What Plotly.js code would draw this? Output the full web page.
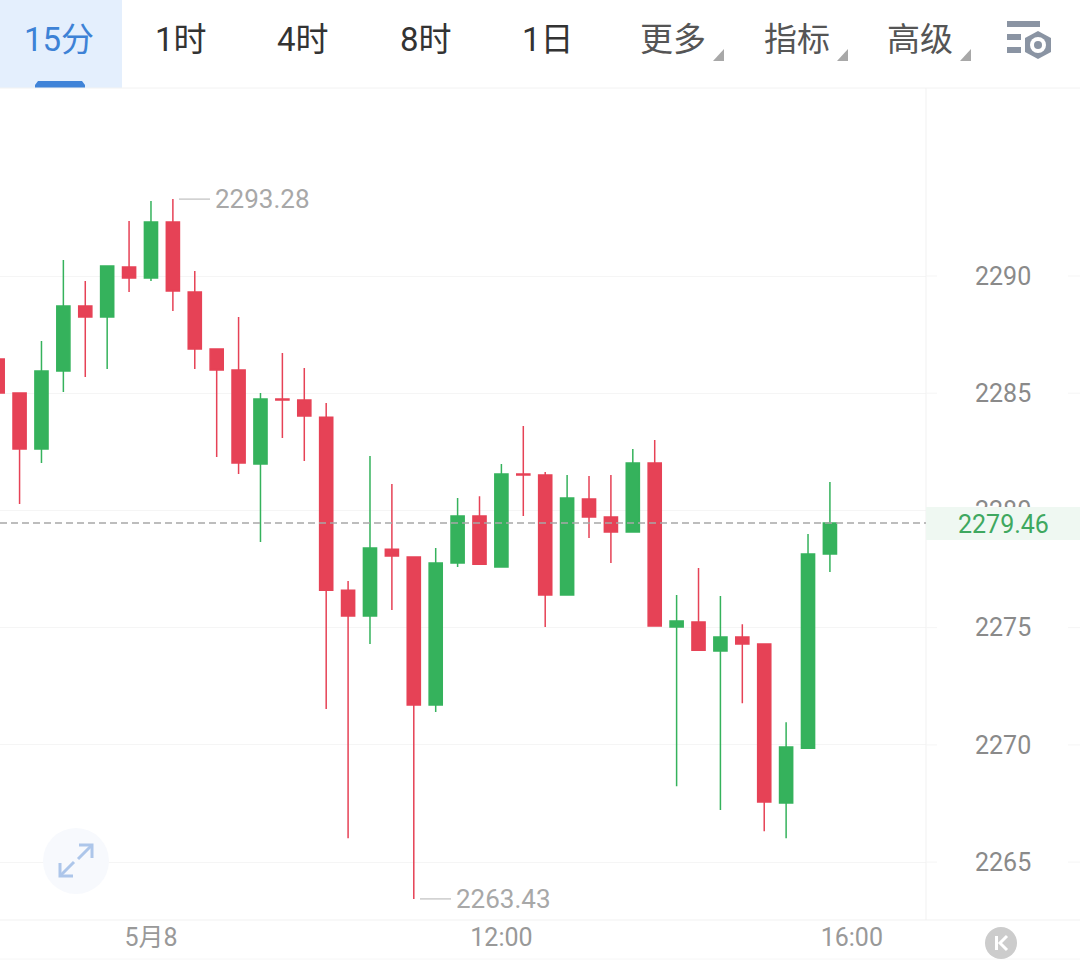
<!DOCTYPE html>
<html><head><meta charset="utf-8">
<script src="https://cdn.plot.ly/plotly-3.0.1.min.js"></script>
<style>html,body{margin:0;padding:0;background:#fff}#c{width:1080px;height:961px}</style>
</head><body><div id="c"></div>
<script>
const times = ["06:15","06:30","06:45","07:00","07:15","07:30","07:45","08:00","08:15","08:30","08:45","09:00","09:15","09:30","09:45","10:00","10:15","10:30","10:45","11:00","11:15","11:30","11:45","12:00","12:15","12:30","12:45","13:00","13:15","13:30","13:45","14:00","14:15","14:30","14:45","15:00","15:15","15:30","15:45"];
const opens = [2286.46,2285.01,2282.62,2285.95,2288.72,2288.25,2290.38,2289.91,2292.30,2289.32,2286.89,2285.99,2281.98,2284.75,2284.71,2283.98,2276.60,2275.50,2278.35,2278.01,2271.70,2277.76,2279.76,2277.59,2281.55,2281.51,2276.39,2280.49,2279.72,2279.08,2282.02,2275.03,2275.24,2274.00,2274.60,2274.30,2267.52,2269.86,2278.14];
const closes = [2285.01,2282.62,2285.95,2288.72,2288.25,2290.43,2289.91,2292.30,2289.36,2286.89,2285.99,2282.02,2284.75,2284.71,2284.03,2276.60,2275.50,2278.40,2278.06,2271.70,2277.76,2279.76,2277.71,2281.55,2281.51,2276.39,2280.53,2279.72,2279.08,2282.02,2275.07,2275.28,2274.04,2274.60,2274.30,2267.56,2269.91,2278.14,2279.46];
const highs = [2286.46,2285.01,2287.23,2290.68,2289.79,2290.43,2292.35,2293.20,2293.28,2290.21,2286.89,2288.25,2285.01,2286.72,2286.08,2284.58,2276.99,2282.32,2281.13,2278.01,2278.40,2280.53,2280.61,2281.98,2283.60,2281.64,2281.51,2281.47,2281.51,2282.62,2283.00,2276.39,2277.54,2276.35,2275.15,2274.30,2270.97,2278.99,2281.21];
const lows = [2285.01,2280.27,2282.02,2285.05,2285.69,2286.03,2289.32,2289.79,2288.51,2286.03,2282.28,2281.55,2278.65,2283.09,2282.11,2271.53,2266.02,2274.30,2275.75,2263.43,2271.40,2277.59,2277.71,2277.59,2279.76,2275.03,2276.39,2278.82,2277.76,2279.08,2275.07,2268.24,2274.04,2267.22,2271.78,2266.32,2266.02,2269.86,2277.37];
const gridValues = [2265,2270,2275,2280,2285,2290];
const xTickTimes = ["08:00","12:00","16:00"];
const xTickLabels = ["5月8","12:00","16:00"];
const lastPrice = 2279.46, maxPrice = 2293.28, minPrice = 2263.43;
const tabs = [["15分",59,"#3d82d6"],["1时",181,"#333333"],["4时",303,"#333333"],["8时",426,"#333333"],["1日",548,"#333333"],["更多",673,"#555555"],["指标",797,"#555555"],["高级",920,"#555555"]];

const day = "2024-05-08 ";
const RED = "#e64256", GREEN = "#35b25c";
const GRID = "#f5f5f5";
const FONT = "Roboto, 'Noto Sans CJK SC', sans-serif";
const W = 1080, H = 961;
const px = x => x / W, py = y => 1 - y / H;
const pathOf = pts => pts.map((p, i) => (i ? "L" : "M") + px(p[0]) + "," + py(p[1])).join(" ");

const pline = (x0, y0, x1, y1, color, width) => ({type:"line", xref:"paper", yref:"paper", x0:px(x0), y0:py(y0), x1:px(x1), y1:py(y1), line:{color, width}, layer:"above"});
const rect = (x0, y0, x1, y1, color, layer) => ({type:"rect", xref:"paper", yref:"paper", x0:px(x0), y0:py(y0), x1:px(x1), y1:py(y1), fillcolor:color, line:{width:0}, layer:layer||"above"});
const circle = (cx, cy, r, color) => ({type:"circle", xref:"paper", yref:"paper", x0:px(cx-r), y0:py(cy+r), x1:px(cx+r), y1:py(cy-r), fillcolor:color, line:{width:0}, layer:"above"});
const poly = (pts, color) => ({type:"path", xref:"paper", yref:"paper", path:pathOf(pts)+" Z", fillcolor:color, line:{width:0}, layer:"above"});
const stroke = (pts, color, width) => ({type:"path", xref:"paper", yref:"paper", path:pathOf(pts), line:{color, width}, layer:"above"});
const valueLine = (x0, x1, y, color, width, dash) => ({type:"line", xref:"paper", yref:"y", x0:px(x0), x1:px(x1), y0:y, y1:y, line:{color, width, dash}, layer:"above"});

const shapes = [];
// toolbar
shapes.push(rect(0,0,122,88,"#e4effd"));
shapes.push({type:"path", xref:"paper", yref:"paper", path:pathOf([[35,88],[35,85],[38,81],[82,81],[85,85],[85,88]])+" Z", fillcolor:"#3f83d8", line:{width:0}, layer:"above"});
shapes.push(pline(0,88,1080,88,"#f2f2f2",1));
[724,848,971].forEach(x => shapes.push(poly([[x,49],[x,61],[x-11,61]],"#a8a8a8")));
// settings icon
const ICON = "#8a94a3";
shapes.push(rect(1007,21,1040,27,ICON), rect(1007,34,1021,40,ICON), rect(1007,47,1021,53,ICON));
shapes.push(poly([[1038,31],[1051,38],[1051,52],[1038,59],[1025,52],[1025,38]],ICON));
shapes.push(circle(1038,45,8,"#ffffff"), circle(1038,45,4,ICON));
// frame
shapes.push(pline(926,88,926,920,"#f1f1f1",1));
shapes.push(pline(0,920,1080,920,"#f1f1f1",1));
shapes.push(pline(0,959,1080,959,"#f6f6f6",1));
// grid stubs in the right-hand scale column
gridValues.forEach(v => {
  shapes.push(valueLine(926,937,v,GRID,1));
  shapes.push(valueLine(1068,1080,v,GRID,1));
});
// last price
shapes.push(rect(926,507,1080,540,"#eff8f2"));
shapes.push(valueLine(0,926,lastPrice,"#a8a8a8",1.5,"7px,4px"));
// extremes
shapes.push(valueLine(179,210,maxPrice,"#cccccc",1.5));
shapes.push(valueLine(420,451,minPrice,"#cccccc",1.5));
// expand button
const EX = "#adc6ea";
shapes.push(circle(76,861,33,"#f7f9fd"));
shapes.push(stroke([[79,845],[92,845],[92,858]],EX,3), stroke([[92,845],[78,859]],EX,3));
shapes.push(stroke([[60,863],[60,876],[73,876]],EX,3), stroke([[60,876],[74,862]],EX,3));
// K button
shapes.push(circle(1001,943,16,"#cccccc"));
shapes.push(rect(995,936,998,950,"#ffffff"));
shapes.push(stroke([[1007,936],[1000,943],[1007,950]],"#ffffff",3));

const ann = (text, x, y, size, color, extra) => Object.assign({text, x:px(x), y:py(y), xref:"paper", yref:"paper", showarrow:false, xanchor:"center", yanchor:"middle", font:{family:FONT, size, color}}, extra||{});
const annotations = tabs.map(t => ann(t[0], t[1], 39, 33, t[2]));
annotations.push(ann(String(lastPrice), 1003, 524, 25, "#3fa860"));
annotations.push({text:String(maxPrice), x:px(215), y:maxPrice, xref:"paper", yref:"y", showarrow:false, xanchor:"left", yanchor:"middle", xshift:-2, font:{family:FONT, size:26, color:"#a8a8a8"}});
annotations.push({text:String(minPrice), x:px(456), y:minPrice, xref:"paper", yref:"y", showarrow:false, xanchor:"left", yanchor:"middle", xshift:-2, font:{family:FONT, size:26, color:"#a8a8a8"}});

const trace = {
  type:"candlestick",
  x: times.map(t => day + t),
  open: opens, high: highs, low: lows, close: closes,
  increasing:{line:{color:GREEN, width:1.5}, fillcolor:GREEN},
  decreasing:{line:{color:RED, width:1.5}, fillcolor:RED},
  whiskerwidth:0, hoverinfo:"none", showlegend:false
};

const layout = {
  width:W, height:H,
  margin:{l:0,r:0,t:0,b:0,pad:0},
  paper_bgcolor:"#ffffff", plot_bgcolor:"#ffffff",
  font:{family:FONT},
  showlegend:false,
  boxgap:0.4, boxgroupgap:0,
  xaxis:{
    domain:[0,926/W], type:"date",
    range:[day+"06:16:36", day+"16:50:48"],
    rangeslider:{visible:false},
    tickmode:"array", tickvals:xTickTimes.map(t => day+t), ticktext:xTickLabels,
    showgrid:false, zeroline:false, showline:false, ticks:"",
    tickfont:{family:FONT, size:25, color:"#999999"}
  },
  yaxis:{
    domain:[1-920/H, 1-88/H], side:"right",
    range:[2262.53,2298.02],
    tickmode:"array", tickvals:gridValues, ticktext:gridValues.map(String),
    showgrid:true, gridcolor:GRID, gridwidth:1,
    zeroline:false, showline:false, ticks:"",
    ticklabelstandoff:48,
    tickfont:{family:FONT, size:25, color:"#8a8a8a"}
  },
  shapes, annotations
};
Plotly.newPlot("c",[trace],layout,{displayModeBar:false,staticPlot:true});
</script></body></html>
